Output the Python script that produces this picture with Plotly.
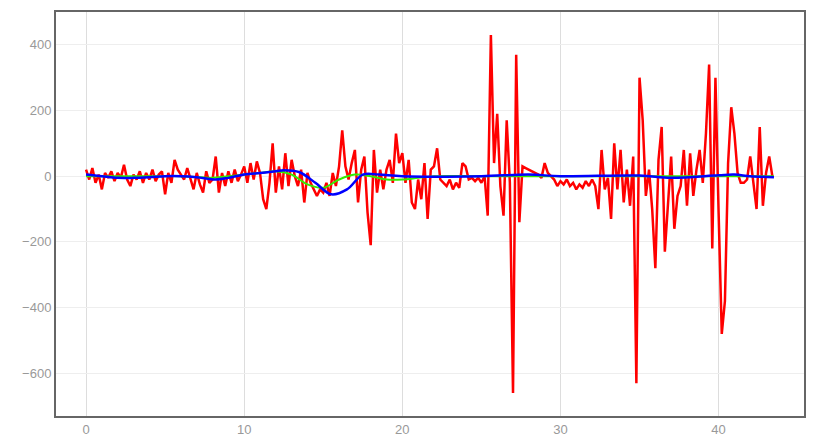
import numpy as np
import plotly.graph_objects as go

red_y = [
 20,-10,25,-20,5,-40,10,-5,15,-15,
 10,-5,35,-10,-30,5,-10,15,-20,10,
 -10,20,-15,5,15,-55,10,-20,50,20,
 5,-10,25,-5,-40,10,-25,-50,15,-20,
 -10,60,-50,10,-30,15,-20,20,-15,5,
 30,-20,40,-10,45,10,-70,-100,-20,100,
 -50,30,-40,70,-30,50,0,-30,20,-80,
 10,-20,-40,-60,-40,-50,-20,-60,10,-30,
 30,140,30,-10,40,80,-80,20,60,-110,
 -210,80,-50,20,-40,20,50,-20,130,40,
 70,-20,50,-80,-100,-10,-70,40,-130,20,
 30,85,-10,-20,-30,-10,-40,-20,-35,40,
 30,-10,-5,-15,-5,-20,0,-120,430,40,
 190,-30,-120,170,-20,-660,370,-140,30,25,
 20,15,10,5,-5,40,10,0,-10,-30,
 -15,-25,-10,-30,-20,-40,-25,-35,-15,-30,
 -10,-30,-100,80,-40,-5,-130,100,-40,80,
 -80,20,-90,60,-630,300,170,-60,20,-100,
 -280,50,150,-230,-80,60,-160,-60,-30,80,
 -90,70,-60,20,80,-20,130,340,-220,300,
 -110,-480,-380,40,210,130,10,-20,-20,-10,
 60,-30,-100,150,-90,10,60,0,
]
red_x = np.round(np.arange(len(red_y)) * 0.2, 2)

green_x = [0,2,4,6,8,9,10,11,12,13,14,15,16,17,18,19,20,21,22,25,30,35,40,43.5]
green_y = [0,0,0,0,-5,0,5,10,15,5,-25,-35,-10,5,0,-10,-10,-5,0,0,0,0,0,0]

blue_x = [0,1,2,3,4,5,6,7,8.2,9,10,11,12,12.5,13.5,14.5,15.5,16.5,17.5,18.5,20,25,28,30,35,37,40,41,42,43.5]
blue_y = [5,0,-5,-5,-3,0,0,-3,-10,-5,5,10,15,18,12,-20,-55,-40,5,5,0,0,5,0,2,-5,3,5,0,-3]

fig = go.Figure()
fig.add_trace(go.Scatter(x=red_x, y=red_y, mode="lines", line=dict(color="#ff0000", width=2.5)))
fig.add_trace(go.Scatter(x=green_x, y=green_y, mode="lines", line=dict(color="#33ee00", width=2, shape="spline")))
fig.add_trace(go.Scatter(x=blue_x, y=blue_y, mode="lines", line=dict(color="#0000ff", width=2.5, shape="spline")))

axis_common = dict(showline=True, linecolor="#666666", linewidth=2, mirror=True,
                   zeroline=False, ticks="", tickfont=dict(color="#999999", size=13, family="Liberation Sans"))
fig.update_xaxes(range=[-1.9, 45.4], tickvals=[0,10,20,30,40], gridcolor="#dddddd", **axis_common)
fig.update_yaxes(range=[-730, 500], tickvals=[-600,-400,-200,0,200,400], gridcolor="#eeeeee", **axis_common)
fig.update_layout(width=817, height=446, showlegend=False, plot_bgcolor="white", paper_bgcolor="white",
                  margin=dict(l=48, r=21, t=2, b=38))
fig.write_html("out.html")
